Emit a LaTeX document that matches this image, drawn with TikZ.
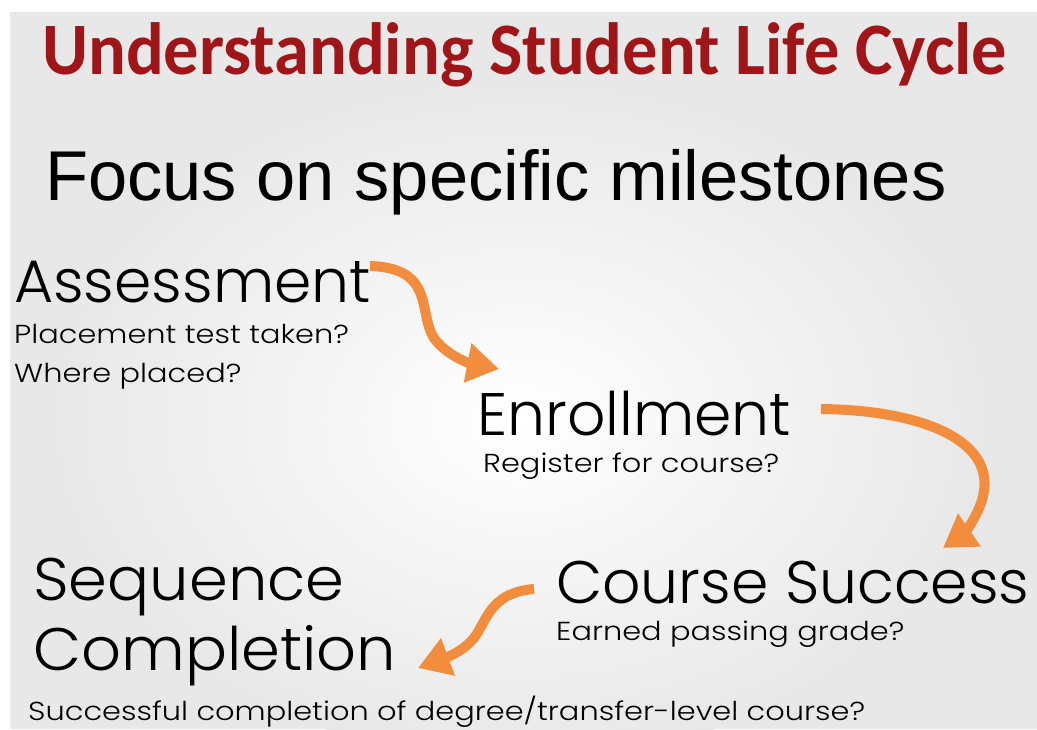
\documentclass[tikz,border=0pt]{standalone}
\usepackage{fontspec}
\newfontfamily\titlefont{Carlito}
\newfontfamily\arialfont{Liberation Sans}
\IfFontExistsTF{Poppins Light}{\newfontfamily\gothic{Poppins Light}}{\newfontfamily\gothic{Poppins}}
\usetikzlibrary{arrows.meta}
\definecolor{titlered}{RGB}{160,22,24}
\definecolor{arroworange}{RGB}{242,141,62}
\definecolor{bggray}{RGB}{232,232,232}
\newcommand{\wide}[1]{\scalebox{1.17}[1]{#1}}
\begin{document}
\begin{tikzpicture}[x=1pt,y=-1pt,
  txt/.style={inner sep=0pt,anchor=base west,text=black},
  big/.style={txt,font=\gothic\fontsize{60}{62}\selectfont},
  small/.style={txt,font=\gothic\fontsize{26}{28}\selectfont},
  flow/.style={draw=arroworange,line width=10pt,
    -{Triangle[width=38pt,length=32pt]},arroworange}]
\useasboundingbox (0,0) rectangle (1037,729);
\fill[white] (0,0) rectangle (1037,729);
\fill[bggray] (10,12) rectangle (1037,729);
\shade[inner color=white,outer color=bggray] (520,420) ellipse (470 and 340);
% title
\node[inner sep=0pt,anchor=base west,text=titlered,font=\titlefont\bfseries\fontsize{74}{76}\selectfont] (title) at (42,74) {\scalebox{0.952}[1]{Understanding Student Life Cycle}};
\node[inner sep=0pt,anchor=base west,font=\arialfont\fontsize{70.5}{72}\selectfont] (focus) at (45,200) {Focus on specific milestones};
% milestones
\node[big] (assess) at (14,302) {Assessment};
\node[small] (assess1) at (14,343) {\wide{Placement test taken?}};
\node[small] (assess2) at (14,382) {\wide{Where placed?}};
\node[big] (enroll) at (477,435) {Enrollment};
\node[small] (enroll1) at (483,472) {\wide{Register for course?}};
\node[big] (course) at (556,603) {Course Success};
\node[small] (course1) at (556,640) {\wide{Earned passing grade?}};
\node[big] (seq) at (33,600) {\scalebox{1.04}[1]{Sequence}};
\node[big] (comp) at (33,670) {\scalebox{1.04}[1]{Completion}};
\node[small] (comp1) at (28,720) {\wide{Successful completion of degree/transfer-level course?}};
% arrows
\coordinate (a1s) at (370,266);
\coordinate (a1e) at (499,369);
\coordinate (a2s) at (821,409);
\coordinate (a2e) at (943,548);
\coordinate (a3s) at (534,589);
\coordinate (a3e) at (418,668);
\draw[flow] (a1s) .. controls (440,268) and (415,320) .. (438,343) .. controls (450,356) and (468,363) .. (a1e);
\draw[flow] (a2s) .. controls (920,410) and (1000,440) .. (982,500) .. controls (976,520) and (962,535) .. (a2e);
\draw[flow] (a3s) .. controls (495,592) and (488,615) .. (478,632) .. controls (468,650) and (445,658) .. (a3e);
\end{tikzpicture}
\end{document}
